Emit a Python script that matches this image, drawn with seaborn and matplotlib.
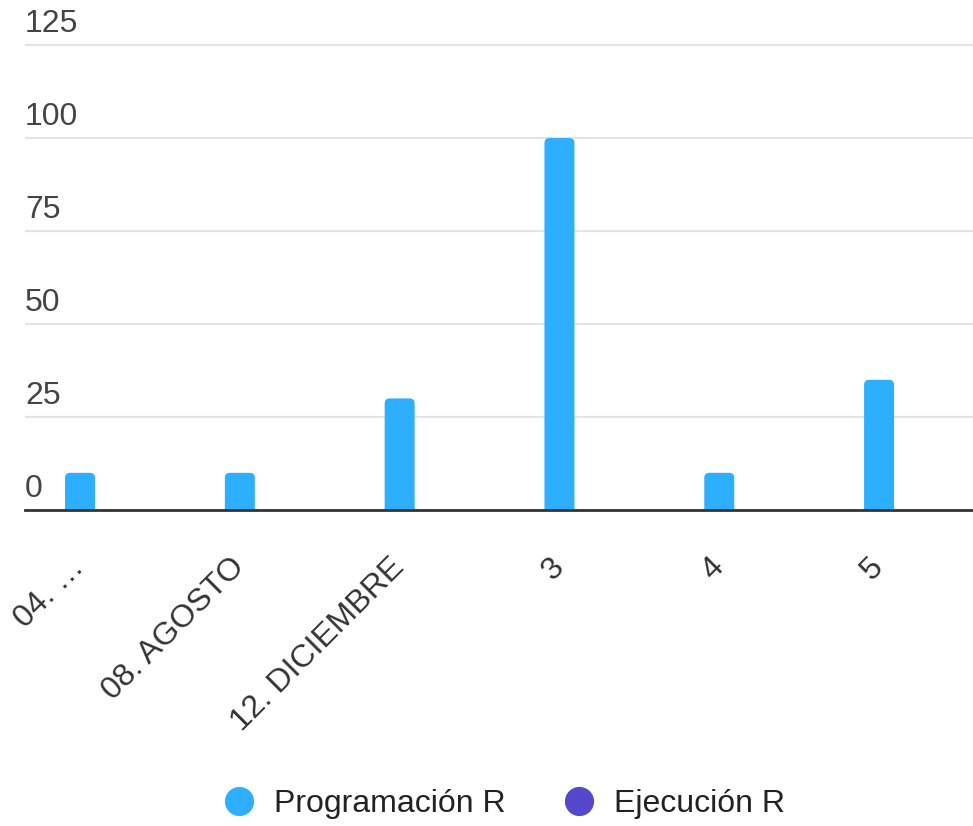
import numpy as np
import pandas as pd
import seaborn as sns
import matplotlib.pyplot as plt
from matplotlib.lines import Line2D
from matplotlib.patches import FancyBboxPatch
from matplotlib.transforms import offset_copy

categories = ["04. …", "08. AGOSTO", "12. DICIEMBRE", "3", "4", "5"]
programacion = [10, 10, 30, 100, 10, 35]
ejecucion = [0, 0, 0, 0, 0, 0]
series = ["Programación R", "Ejecución R"]
colors = ["#2eaeff", "#5547c9"]
y_ticks = [0, 25, 50, 75, 100, 125]

df = pd.DataFrame({
    "categoria": categories * 2,
    "valor": programacion + ejecucion,
    "serie": [series[0]] * len(categories) + [series[1]] * len(categories),
})

sns.set_style("white")
plt.rcParams["font.family"] = ["Liberation Sans", "DejaVu Sans"]

fig = plt.figure(figsize=(9.73, 8.26), dpi=100)
# axes box in pixels: left 25, bottom edge (zero line) at y=510, top a bit above 125
ax_w, ax_h = 948, 472.4
ax = fig.add_axes([25 / 973, 316 / 826, ax_w / 973, ax_h / 826])

bar_w = 0.375
sns.barplot(data=df, x="categoria", y="valor", hue="serie", palette=colors,
            width=bar_w, saturation=1, linewidth=0, legend=False, ax=ax)

xlim = (-0.438, 5.494)
ylim = (0, 127)
ax.set_xlim(*xlim)
ax.set_ylim(*ylim)
ax.set_xlabel("")
ax.set_ylabel("")

# swap the square bars for ones with slightly rounded tops
px_x = ax_w / (xlim[1] - xlim[0])
px_y = ax_h / (ylim[1] - ylim[0])
r_px = 5
for p in list(ax.patches):
    h = p.get_height()
    if h <= 0:
        continue
    ext = r_px / px_y  # push the bottom corners below the axis so they get clipped
    fb = FancyBboxPatch((p.get_x(), -ext), p.get_width(), h + ext,
                        boxstyle=f"round,pad=0,rounding_size={r_px / px_x}",
                        mutation_aspect=px_x / px_y,
                        facecolor=p.get_facecolor(), linewidth=0, zorder=p.get_zorder())
    ax.add_patch(fb)
    p.remove()

# y axis: labels sit above the gridlines, inside the plot
ax.set_yticks(y_ticks)
ax.set_yticklabels([str(v) for v in y_ticks])
ax.tick_params(axis="y", length=0, pad=0, labelsize=23, labelcolor="#444444")
for lab in ax.get_yticklabels():
    lab.set_horizontalalignment("left")
    lab.set_verticalalignment("bottom")
    lab.set_transform(offset_copy(lab.get_transform(), fig=fig, x=0, y=4.5, units="points"))

# x labels under the first series bar, rotated
ax.set_xticks(np.arange(len(categories)) - bar_w / 4)
ax.set_xticklabels(categories, rotation=45, ha="right", va="center", rotation_mode="anchor")
ax.tick_params(axis="x", length=0, pad=38, labelsize=23, labelcolor="#333333")

ax.grid(axis="y", color="#e3e3e3", linewidth=1.5)
ax.set_axisbelow(True)
for side in ["top", "left", "right"]:
    ax.spines[side].set_visible(False)
ax.spines["bottom"].set_color("#333333")
ax.spines["bottom"].set_linewidth(2)
ax.spines["bottom"].set_zorder(3)

handles = [Line2D([], [], marker="o", linestyle="", markersize=20, color=c) for c in colors]
fig.legend(handles, series, loc="center", bbox_to_anchor=(504 / 973, 1 - 804 / 826),
           ncol=2, frameon=False, fontsize=23, handlelength=1.0, handletextpad=0.6,
           columnspacing=1.8, labelcolor="#222222", borderpad=0)

fig.savefig("out.png", dpi=100)
